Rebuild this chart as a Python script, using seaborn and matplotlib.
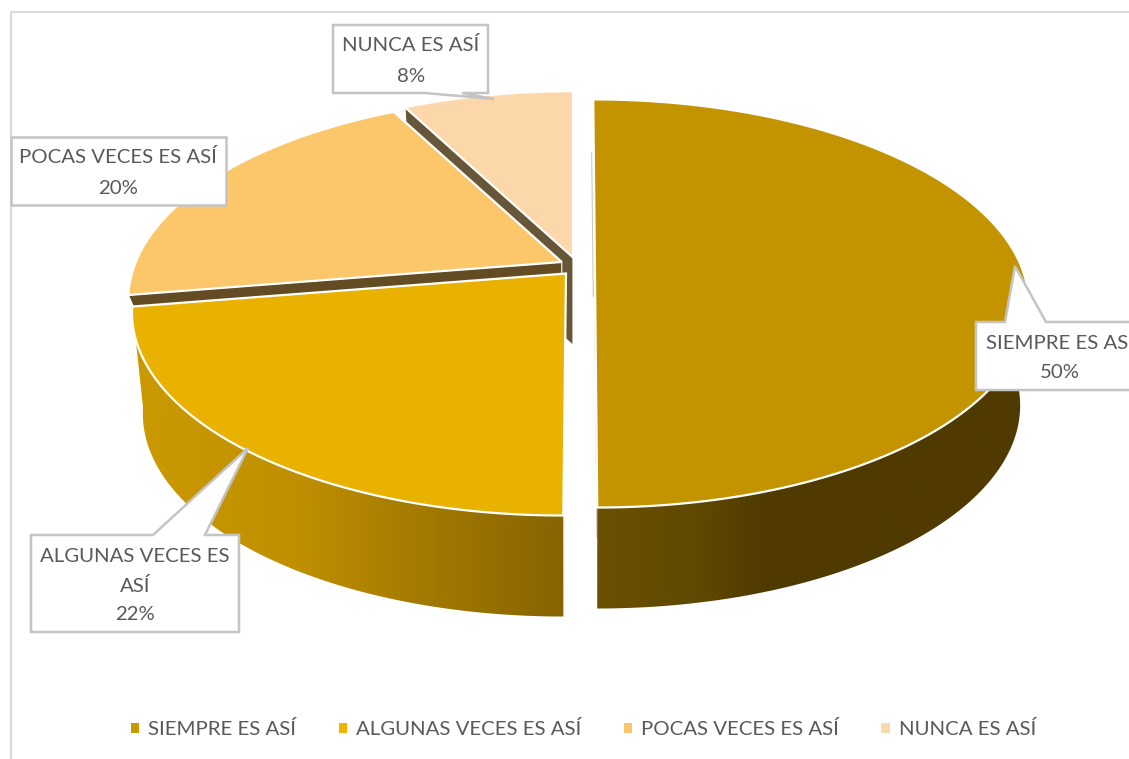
import numpy as np
import matplotlib
matplotlib.use("Agg")
import matplotlib.pyplot as plt
from matplotlib.patches import Polygon, Patch
from matplotlib.lines import Line2D
import seaborn as sns

categories = ["SIEMPRE ES ASÍ", "ALGUNAS VECES ES ASÍ", "POCAS VECES ES ASÍ", "NUNCA ES ASÍ"]
values = [50.0, 22.4, 20.0, 7.6]
percent_labels = ["50%", "22%", "20%", "8%"]

top_colors = ["#c49300", "#e9b200", "#fcc66b", "#fbd7aa"]
legend_colors = ["#c99700", "#f0b400", "#fdc66c", "#fbd9ad"]
wall_colors = [None, None, "#634c24", "#685639"]

# Projection of the tilted, exploded disc
CX, CY = 577.0, 265.5
B, A, K = 426.0, 197.0, 0.186
DEPTH = 101.0
wall_depth = [0, 0, 30.0, 88.0]
explode = [0.042, 0.04, 0.04, 0.04]
nudge_y = [0.0, 2.0, 0.0, -0.5]
bottom_scale = [0.98, 0.975, 0.97, 0.97]
shear = [0.0098, -0.011, 0.0, 0.0]

sns.set_theme(style="white")
plt.rcParams["font.family"] = ["Lato", "DejaVu Sans"]
TEXT = "#595959"
FS = 14.7

fig = plt.figure(figsize=(11.29, 7.59), dpi=100)
ax = fig.add_axes([0, 0, 1, 1])
ax.set_axis_off()

vals = np.array(values)
edges = np.concatenate([[0], np.cumsum(vals)]) / vals.sum() * 2 * np.pi


def apex(i):
    mid = (edges[i] + edges[i + 1]) / 2
    return CX + B * explode[i] * np.sin(mid), CY - A * explode[i] * np.cos(mid) + nudge_y[i]


def rim(i, t0=None, t1=None, n=200):
    t0 = edges[i] if t0 is None else t0
    t1 = edges[i + 1] if t1 is None else t1
    t = np.linspace(t0, t1, n)
    u, v = np.sin(t), np.cos(t)
    d = 1 + K * v
    ax_, ay_ = apex(i)
    y = -A * v / d
    x = ax_ + B * u / d + shear[i] * y
    return np.column_stack([x, ay_ + y])


def lower(i, pts, depth):
    ax_, _ = apex(i)
    out = pts.copy()
    out[:, 0] = ax_ + bottom_scale[i] * (out[:, 0] - ax_)
    out[:, 1] += depth
    return out


z = [10]


def nz():
    z[0] += 1
    return z[0]


def draw_top(i):
    pts = np.vstack([[apex(i)], rim(i)])
    ax.add_patch(Polygon(pts, closed=True, fc=top_colors[i], ec="white", lw=1.6,
                         joinstyle="miter", zorder=nz()))


def draw_wall(i, at_start):
    t = edges[i] if at_start else edges[i + 1]
    a = np.array(apex(i))
    p = rim(i, t, t, 2)[0]
    a2 = lower(i, np.array([a]), wall_depth[i])[0]
    p2 = lower(i, np.array([p]), wall_depth[i])[0]
    ax.add_patch(Polygon([a, p, p2, a2], closed=True, fc=wall_colors[i], ec="white",
                         lw=0.8, zorder=nz()))


def draw_side(i, stops):
    top = rim(i)
    poly = np.vstack([top, lower(i, top, DEPTH)[::-1]])
    clip = Polygon(poly, closed=True, fc="none", ec="none", zorder=nz())
    ax.add_patch(clip)
    xs = [s[0] for s in stops]
    cols = [s[1] for s in stops]
    pos = (np.array(xs) - xs[0]) / (xs[-1] - xs[0])
    cmap = matplotlib.colors.LinearSegmentedColormap.from_list("g", list(zip(pos, cols)))
    im = ax.imshow(np.linspace(0, 1, 512)[None, :], cmap=cmap, aspect="auto",
                   extent=(xs[0], xs[-1], poly[:, 1].max() + 2, poly[:, 1].min() - 2),
                   zorder=nz(), interpolation="bilinear")
    im.set_clip_path(clip)


# Painter's order, back to front
draw_wall(3, True)
draw_top(3)
draw_wall(2, True)
draw_top(2)
draw_side(0, [(590, "#6b5100"), (700, "#5f4800"), (765, "#4f3a00"), (1035, "#4f3a00")])
draw_top(0)
draw_side(1, [(125, "#cc9a00"), (300, "#bf8f00"), (400, "#a87e00"), (570, "#856300")])
draw_top(1)

ax.set_xlim(0, 1129)
ax.set_ylim(759, 0)

# Faint edge-on wall of the largest slice
ax.add_line(Line2D([591.7, 593.3], [153, 297], color="#cfc8b0", lw=0.8, zorder=9))
ax.add_line(Line2D([595, 597], [327, 538], color="#cfc8b0", lw=0.8, zorder=9))

# Chart frame
ax.add_line(Line2D([11, 11, 1129], [759, 12, 12], color="#d9d9d9", lw=1.5, zorder=1))


def callout(box, top_ptr, bottom_ptr, center, lines):
    x0, x1, y0, y1 = box
    pts = [(x0, y0)] + list(top_ptr) + [(x1, y0), (x1, y1)] + list(bottom_ptr) + [(x0, y1)]
    ax.add_patch(Polygon(pts, closed=True, fc="white", ec="#c4c4c4", lw=1.8,
                         joinstyle="miter", zorder=40))
    for (txt, y) in zip(lines, center[1]):
        ax.text(center[0], y, txt, ha="center", va="center", fontsize=FS, color=TEXT, zorder=41)


callout((976, 1140, 322, 390), [(1005, 322), (1015, 266), (1046, 322)], [], (1060, [343, 372]),
        [categories[0], percent_labels[0]])
callout((31, 239, 535, 632), [(153, 535), (248, 448), (205, 535)], [], (135, [557, 586, 614]),
        ["ALGUNAS VECES ES", "ASÍ", percent_labels[1]])
callout((11, 226, 137, 205), [], [], (118, [157, 188]), [categories[2], percent_labels[2]])
callout((333, 488, 25, 93), [], [(462, 93), (494, 99), (425, 93)], (411, [45, 76]),
        [categories[3], percent_labels[3]])

handles = [Patch(fc=c, ec="none", label=l) for c, l in zip(sns.color_palette(legend_colors), categories)]
ax.legend(handles=handles, ncol=4, loc="center", bbox_to_anchor=(583.5, 729),
          bbox_transform=ax.transData, frameon=False, fontsize=FS, labelcolor=TEXT,
          handlelength=0.4, handleheight=0.4, handletextpad=0.45, columnspacing=2.08,
          borderpad=0, borderaxespad=0)

fig.savefig("out.png", dpi=100, facecolor="white")
